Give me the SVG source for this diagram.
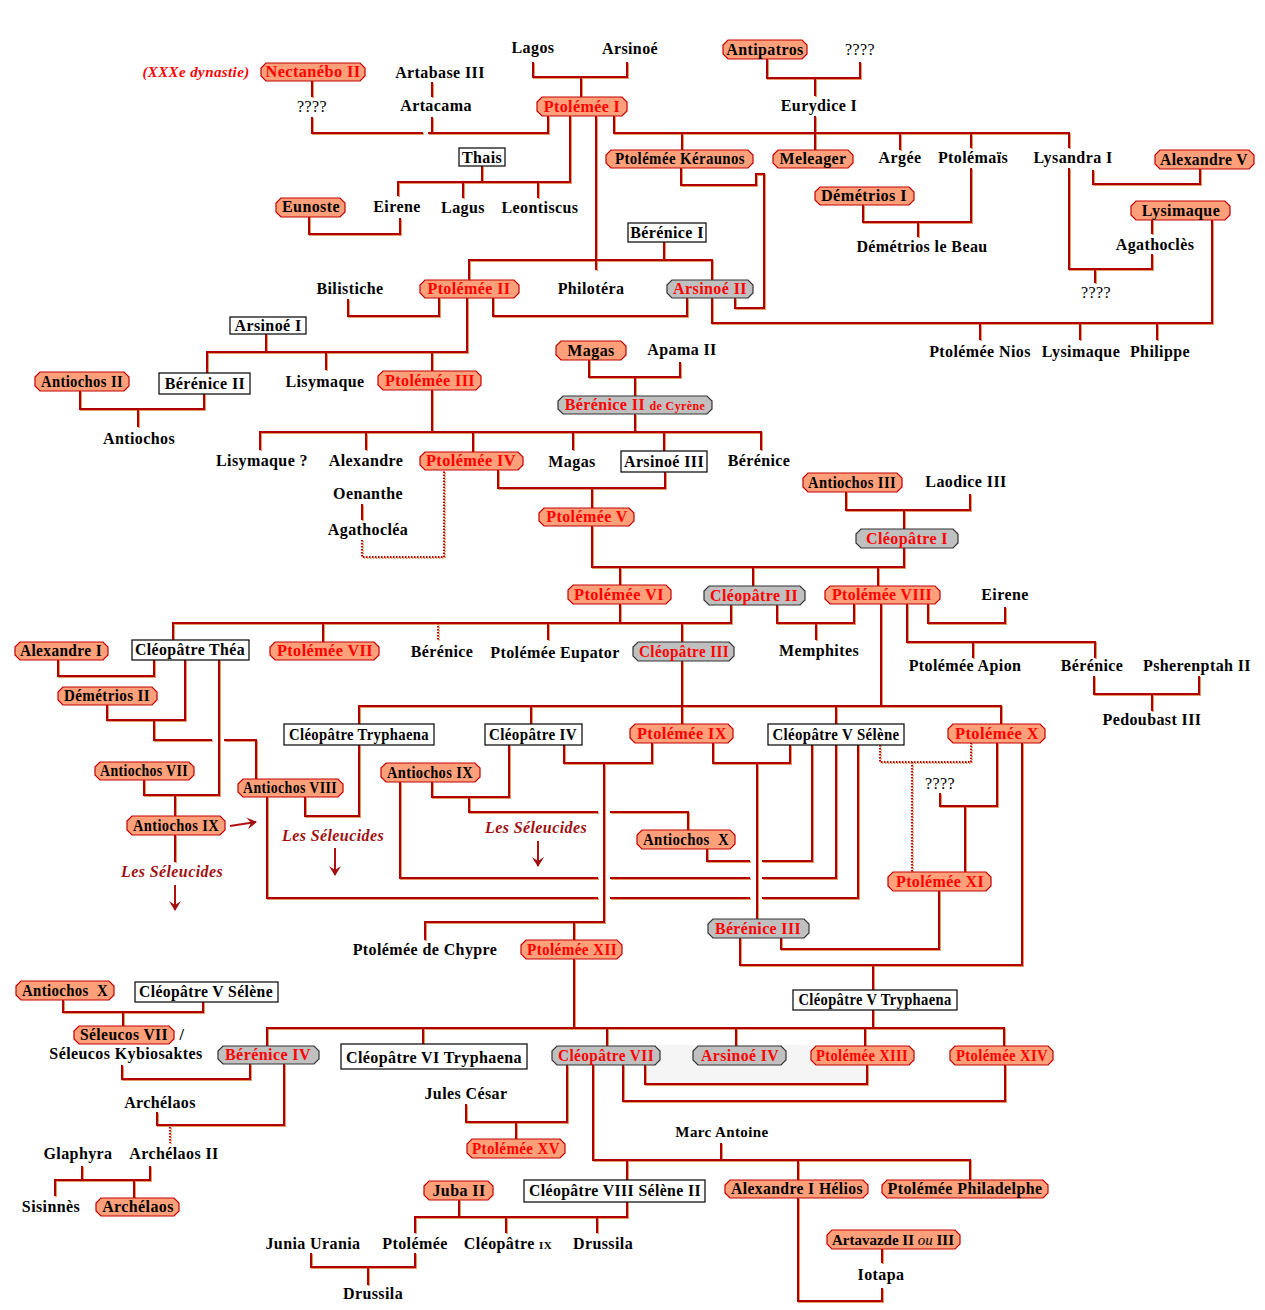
<svg xmlns="http://www.w3.org/2000/svg" width="1265" height="1310" viewBox="0 0 1265 1310">
<style>
.t{font-family:"Liberation Serif",serif;font-weight:bold;font-size:16px;letter-spacing:0.4px;text-anchor:middle;fill:#000}
.r{fill:#f00}
.q{font-weight:normal}
.it{font-style:italic}
.sel{font-style:italic;fill:#a01010}
.oct polygon{fill:#ffa07a;stroke:#c00000;stroke-width:1.2}
.gray polygon{fill:#c0c0c0;stroke:#333;stroke-width:1.2}
.box rect{fill:#fff;stroke:#000;stroke-width:1.2}
#connectors path{fill:none;stroke:#b00000;stroke-width:2}
#connectors path.dot{stroke:#c00000;stroke-width:2;stroke-dasharray:1.5 1.5}
.arr{fill:none;stroke:#b01010;stroke-width:2}
</style>
<defs>
<filter id="edge" x="-5%" y="-5%" width="110%" height="110%"><feDropShadow dx="1" dy="1" stdDeviation="0" flood-color="#e39a66"/></filter>
<marker id="ah" markerWidth="12" markerHeight="12" refX="9" refY="6" orient="auto" markerUnits="userSpaceOnUse"><path d="M0,0 L10,6 L0,12 L4,6 Z" fill="#a01010"/></marker>
</defs>
<rect width="1265" height="1310" fill="#fff"/>
<rect x="647" y="1045" width="220" height="38" fill="#f5f5f5"/>

<g id="connectors" filter="url(#edge)">
<path d="M533,62 V77 H627 V62"/>
<path d="M581,77 V97"/>
<path d="M767,59 V78 H860 V62"/>
<path d="M815,78 V96"/>
<path d="M312,81 V97"/>
<path d="M312,117 V133 H423"/>
<path d="M428,133 H548 V116"/>
<path d="M432,82 V97"/>
<path d="M432,117 V133"/>
<path d="M570,116 V182 H398 V196"/>
<path d="M482,166 V182"/>
<path d="M463,182 V198"/>
<path d="M538,182 V198"/>
<path d="M309,217 V234 H400 V218"/>
<path d="M596,116 V270"/>
<path d="M664,242 V260"/>
<path d="M469,280 V260 H712 V280"/>
<path d="M614,116 V133 H1069 V148"/>
<path d="M682,133 V150"/>
<path d="M815,116 V150"/>
<path d="M900,133 V150"/>
<path d="M971,133 V148"/>
<path d="M1093,170 V184 H1200 V169"/>
<path d="M863,205 V222 H971 V168"/>
<path d="M918,222 V237"/>
<path d="M1069,168 V269 H1152 V254"/>
<path d="M1095,269 V283"/>
<path d="M1152,220 V234"/>
<path d="M1212,220 V323 H712 V298"/>
<path d="M980,323 V340 M1080,323 V340 M1157,323 V340"/>
<path d="M681,168 V185 H756 V174 H764 V308 H735 V298"/>
<path d="M348,299 V316 H439 V298"/>
<path d="M493,298 V316 H687 V298"/>
<path d="M467,298 V352 H207 V373"/>
<path d="M266,334 V352"/>
<path d="M326,352 V370"/>
<path d="M432,352 V371"/>
<path d="M80,391 V409 H204 V394"/>
<path d="M138,409 V427"/>
<path d="M589,360 V377 H680 V362"/>
<path d="M635,377 V396"/>
<path d="M432,390 V432"/>
<path d="M260,450 V432 H761 V450"/>
<path d="M635,414 V432"/>
<path d="M366,432 V450 M473,432 V452 M573,432 V450 M664,432 V451"/>
<path d="M362,504 V520"/>
<path class="dot" d="M362,540 V557 H444 V470"/>
<path d="M498,470 V488 H665 V472"/>
<path d="M592,488 V508"/>
<path d="M846,492 V510 H970 V494"/>
<path d="M904,510 V529"/>
<path d="M592,526 V567 H904 V548"/>
<path d="M620,567 V585 M753,567 V586 M878,567 V586"/>
<path d="M928,604 V623 H1005 V607"/>
<path d="M620,604 V623"/>
<path d="M173,641 V623 H731 V605"/>
<path d="M323,623 V642 M548,623 V640 M682,623 V642"/>
<path class="dot" d="M438,623 V640"/>
<path d="M777,605 V623 H854 V604"/>
<path d="M816,623 V640"/>
<path d="M881,604 V706"/>
<path d="M907,604 V642 H1095 V658"/>
<path d="M973,642 V658"/>
<path d="M1094,676 V694 H1199 V676"/>
<path d="M1152,694 V711"/>
<path d="M682,661 V724"/>
<path d="M359,724 V706 H1001 V724"/>
<path d="M531,706 V724 M836,706 V724"/>
<path d="M58,660 V676 H154 V660"/>
<path d="M185,660 V720 H107 V705"/>
<path d="M219,660 V795 H144 V780"/>
<path d="M154,720 V740 H212 M224,740 H256 V779"/>
<path d="M175,795 V816"/>
<path d="M175,835 V862"/>
<path d="M267,797 V898 H598 M610,898 H750 M762,898 H858 V745"/>
<path d="M305,797 V816 H359 V745"/>
<path d="M400,782 V878 H598 M610,878 H750 M762,878 H836 V745"/>
<path d="M432,782 V797 H509 V745"/>
<path d="M469,797 V812 H598 M610,812 H688 V830"/>
<path d="M707,849 V861 H750 M762,861 H812 V745"/>
<path d="M564,745 V763 H652 V743"/>
<path d="M604,764 V922 H425 V940"/>
<path d="M574,922 V940"/>
<path d="M713,743 V763 H790 V745"/>
<path d="M757,763 V919"/>
<path d="M997,743 V806 H940 V793"/>
<path d="M965,806 V872"/>
<path d="M1022,743 V965 H740 V938"/>
<path d="M939,891 V949 H781 V938"/>
<path d="M873,965 V990"/>
<path class="dot" d="M880,745 V762 H971 V743 M912,762 V872"/>
<path d="M574,959 V1028"/>
<path d="M267,1046 V1028 H1004 V1046"/>
<path d="M423,1028 V1044 M607,1028 V1046 M736,1028 V1046 M865,1028 V1046 M873,1010 V1028"/>
<path d="M63,1000 V1012 H203 V1002"/>
<path d="M123,1012 V1026"/>
<path d="M122,1065 V1079 H250 V1064"/>
<path d="M284,1064 V1125 H157 V1112"/>
<path class="dot" d="M170,1127 V1143"/>
<path d="M82,1166 V1180 H150 V1166"/>
<path d="M55,1196 V1180 H82 M134,1180 V1198"/>
<path d="M645,1065 V1084 H867 V1065"/>
<path d="M623,1065 V1101 H1005 V1065"/>
<path d="M567,1065 V1122 H466 V1104"/>
<path d="M516,1122 V1139"/>
<path d="M593,1065 V1160 H970 V1180"/>
<path d="M721,1143 V1160"/>
<path d="M627,1160 V1180 M798,1160 V1180"/>
<path d="M798,1198 V1301 H882 V1288"/>
<path d="M882,1249 V1263"/>
<path d="M459,1200 V1217"/>
<path d="M415,1233 V1217 H627 V1202"/>
<path d="M506,1217 V1233 M597,1217 V1233"/>
<path d="M311,1253 V1267 H415 V1253"/>
<path d="M368,1267 V1285"/>
</g>

<g id="arrows">
<path class="arr" d="M175,885 V910" marker-end="url(#ah)"/>
<path class="arr" d="M335,848 V875" marker-end="url(#ah)"/>
<path class="arr" d="M538,841 V866" marker-end="url(#ah)"/>
<path class="arr" d="M230,826 L256,822" marker-end="url(#ah)"/>
</g>

<g id="n-dynastie"><text class="t r it" x="196" y="77" style="font-size:15px">(XXXe dynastie)</text></g>
<g id="n-nectanebo" class="oct"><polygon points="266,63 360,63 365,68 365,76 360,81 266,81 261,76 261,68"/><text class="t r" x="313" y="77" textLength="95" lengthAdjust="spacingAndGlyphs">Nectanébo II</text></g>
<g id="n-antipatros" class="oct"><polygon points="728,40 802,40 807,45 807,54 802,59 728,59 723,54 723,45"/><text class="t" x="765" y="55">Antipatros</text></g>
<g id="n-ptolemee1" class="oct"><polygon points="542,97 622,97 627,102 627,111 622,116 542,116 537,111 537,102"/><text class="t r" x="582" y="112">Ptolémée I</text></g>
<g id="n-keraunos" class="oct"><polygon points="611,150 748,150 753,155 753,163 748,168 611,168 606,163 606,155"/><text class="t" x="680" y="164" textLength="130" lengthAdjust="spacingAndGlyphs">Ptolémée Kéraunos</text></g>
<g id="n-meleager" class="oct"><polygon points="778,150 848,150 853,155 853,163 848,168 778,168 773,163 773,155"/><text class="t" x="813" y="164">Meleager</text></g>
<g id="n-alexandre5" class="oct"><polygon points="1160,150 1249,150 1254,155 1254,164 1249,169 1160,169 1155,164 1155,155"/><text class="t" x="1204" y="165" textLength="88" lengthAdjust="spacingAndGlyphs">Alexandre V</text></g>
<g id="n-demetrios1" class="oct"><polygon points="820,187 909,187 914,192 914,200 909,205 820,205 815,200 815,192"/><text class="t" x="864" y="201" textLength="86" lengthAdjust="spacingAndGlyphs">Démétrios I</text></g>
<g id="n-eunoste" class="oct"><polygon points="281,198 340,198 345,203 345,212 340,217 281,217 276,212 276,203"/><text class="t" x="311" y="212">Eunoste</text></g>
<g id="n-lysimaque" class="oct"><polygon points="1136,201 1225,201 1230,206 1230,215 1225,220 1136,220 1131,215 1131,206"/><text class="t" x="1181" y="216">Lysimaque</text></g>
<g id="n-ptolemee2" class="oct"><polygon points="425,280 514,280 519,285 519,293 514,298 425,298 420,293 420,285"/><text class="t r" x="469" y="294">Ptolémée II</text></g>
<g id="n-antiochos2" class="oct"><polygon points="40,372 124,372 129,377 129,386 124,391 40,391 35,386 35,377"/><text class="t" x="82" y="387" textLength="82" lengthAdjust="spacingAndGlyphs">Antiochos II</text></g>
<g id="n-ptolemee3" class="oct"><polygon points="383,371 476,371 481,376 481,385 476,390 383,390 378,385 378,376"/><text class="t r" x="430" y="386" textLength="90" lengthAdjust="spacingAndGlyphs">Ptolémée III</text></g>
<g id="n-magas" class="oct"><polygon points="561,341 621,341 626,346 626,355 621,360 561,360 556,355 556,346"/><text class="t" x="591" y="356">Magas</text></g>
<g id="n-ptolemee4" class="oct"><polygon points="425,452 518,452 523,457 523,465 518,470 425,470 420,465 420,457"/><text class="t r" x="471" y="466" textLength="90" lengthAdjust="spacingAndGlyphs">Ptolémée IV</text></g>
<g id="n-ptolemee5" class="oct"><polygon points="544,508 629,508 634,513 634,521 629,526 544,526 539,521 539,513"/><text class="t r" x="587" y="522">Ptolémée V</text></g>
<g id="n-antiochos3" class="oct"><polygon points="808,473 897,473 902,478 902,487 897,492 808,492 803,487 803,478"/><text class="t" x="852" y="488" textLength="88" lengthAdjust="spacingAndGlyphs">Antiochos III</text></g>
<g id="n-ptolemee6" class="oct"><polygon points="573,585 666,585 671,590 671,599 666,604 573,604 568,599 568,590"/><text class="t r" x="619" y="600" textLength="90" lengthAdjust="spacingAndGlyphs">Ptolémée VI</text></g>
<g id="n-ptolemee8" class="oct"><polygon points="830,586 935,586 940,591 940,599 935,604 830,604 825,599 825,591"/><text class="t r" x="882" y="600" textLength="100" lengthAdjust="spacingAndGlyphs">Ptolémée VIII</text></g>
<g id="n-alexandre1" class="oct"><polygon points="20,642 103,642 108,647 108,655 103,660 20,660 15,655 15,647"/><text class="t" x="61" y="656" textLength="82" lengthAdjust="spacingAndGlyphs">Alexandre I</text></g>
<g id="n-ptolemee7" class="oct"><polygon points="275,642 374,642 379,647 379,655 374,660 275,660 270,655 270,647"/><text class="t r" x="325" y="656" textLength="96" lengthAdjust="spacingAndGlyphs">Ptolémée VII</text></g>
<g id="n-demetrios2" class="oct"><polygon points="63,687 152,687 157,692 157,700 152,705 63,705 58,700 58,692"/><text class="t" x="107" y="701" textLength="86" lengthAdjust="spacingAndGlyphs">Démétrios II</text></g>
<g id="n-antiochos7" class="oct"><polygon points="100,762 189,762 194,767 194,775 189,780 100,780 95,775 95,767"/><text class="t" x="144" y="776" textLength="88" lengthAdjust="spacingAndGlyphs">Antiochos VII</text></g>
<g id="n-antiochos8" class="oct"><polygon points="243,779 338,779 343,784 343,792 338,797 243,797 238,792 238,784"/><text class="t" x="290" y="793" textLength="94" lengthAdjust="spacingAndGlyphs">Antiochos VIII</text></g>
<g id="n-antiochos9a" class="oct"><polygon points="132,816 220,816 225,821 225,830 220,835 132,835 127,830 127,821"/><text class="t" x="176" y="831" textLength="86" lengthAdjust="spacingAndGlyphs">Antiochos IX</text></g>
<g id="n-antiochos9b" class="oct"><polygon points="386,763 475,763 480,768 480,777 475,782 386,782 381,777 381,768"/><text class="t" x="430" y="778" textLength="86" lengthAdjust="spacingAndGlyphs">Antiochos IX</text></g>
<g id="n-ptolemee9" class="oct"><polygon points="635,724 728,724 733,729 733,738 728,743 635,743 630,738 630,729"/><text class="t r" x="682" y="739" textLength="90" lengthAdjust="spacingAndGlyphs">Ptolémée IX</text></g>
<g id="n-ptolemee10" class="oct"><polygon points="953,724 1040,724 1045,729 1045,738 1040,743 953,743 948,738 948,729"/><text class="t r" x="997" y="739" textLength="84" lengthAdjust="spacingAndGlyphs">Ptolémée X</text></g>
<g id="n-antiochos10a" class="oct"><polygon points="642,830 730,830 735,835 735,844 730,849 642,849 637,844 637,835"/><text class="t" x="686" y="845" textLength="86" lengthAdjust="spacingAndGlyphs">Antiochos&#160;&#160;X</text></g>
<g id="n-ptolemee11" class="oct"><polygon points="893,872 986,872 991,877 991,886 986,891 893,891 888,886 888,877"/><text class="t r" x="940" y="887" textLength="88" lengthAdjust="spacingAndGlyphs">Ptolémée XI</text></g>
<g id="n-ptolemee12" class="oct"><polygon points="526,940 617,940 622,945 622,954 617,959 526,959 521,954 521,945"/><text class="t r" x="572" y="955" textLength="90" lengthAdjust="spacingAndGlyphs">Ptolémée XII</text></g>
<g id="n-antiochos10b" class="oct"><polygon points="21,981 109,981 114,986 114,995 109,1000 21,1000 16,995 16,986"/><text class="t" x="65" y="996" textLength="86" lengthAdjust="spacingAndGlyphs">Antiochos&#160;&#160;X</text></g>
<g id="n-seleucos7" class="oct"><polygon points="79,1026 169,1026 174,1031 174,1039 169,1044 79,1044 74,1039 74,1031"/><text class="t" x="124" y="1040" textLength="88" lengthAdjust="spacingAndGlyphs">Séleucos VII</text></g>
<g id="n-ptolemee13" class="oct"><polygon points="816,1046 909,1046 914,1051 914,1060 909,1065 816,1065 811,1060 811,1051"/><text class="t r" x="862" y="1061" textLength="92" lengthAdjust="spacingAndGlyphs">Ptolémée XIII</text></g>
<g id="n-ptolemee14" class="oct"><polygon points="955,1046 1048,1046 1053,1051 1053,1060 1048,1065 955,1065 950,1060 950,1051"/><text class="t r" x="1002" y="1061" textLength="92" lengthAdjust="spacingAndGlyphs">Ptolémée XIV</text></g>
<g id="n-ptolemee15" class="oct"><polygon points="472,1139 560,1139 565,1144 565,1153 560,1158 472,1158 467,1153 467,1144"/><text class="t r" x="516" y="1154" textLength="88" lengthAdjust="spacingAndGlyphs">Ptolémée XV</text></g>
<g id="n-juba2" class="oct"><polygon points="429,1181 488,1181 493,1186 493,1195 488,1200 429,1200 424,1195 424,1186"/><text class="t" x="459" y="1196">Juba II</text></g>
<g id="n-helios" class="oct"><polygon points="730,1180 863,1180 868,1185 868,1193 863,1198 730,1198 725,1193 725,1185"/><text class="t" x="797" y="1194" textLength="132" lengthAdjust="spacingAndGlyphs">Alexandre I Hélios</text></g>
<g id="n-philadelphe" class="oct"><polygon points="887,1180 1043,1180 1048,1185 1048,1193 1043,1198 887,1198 882,1193 882,1185"/><text class="t" x="965" y="1194" textLength="155" lengthAdjust="spacingAndGlyphs">Ptolémée Philadelphe</text></g>
<g id="n-artavazde" class="oct"><polygon points="832,1230 955,1230 960,1235 960,1244 955,1249 832,1249 827,1244 827,1235"/><text class="t" x="893" y="1245" style="font-size:15px;letter-spacing:0">Artavazde II <tspan class="it q">ou</tspan> III</text></g>
<g id="n-archelaos-b" class="oct"><polygon points="101,1198 174,1198 179,1203 179,1211 174,1216 101,1216 96,1211 96,1203"/><text class="t" x="138" y="1212">Archélaos</text></g>

<g id="n-arsinoe2" class="gray"><polygon points="672,280 748,280 753,285 753,293 748,298 672,298 667,293 667,285"/><text class="t r" x="710" y="294">Arsinoé II</text></g>
<g id="n-berenice2-cyrene" class="gray"><polygon points="563,396 707,396 712,401 712,409 707,414 563,414 558,409 558,401"/><text class="t r" x="635" y="410">Bérénice II <tspan style="font-size:12px">de Cyrène</tspan></text></g>
<g id="n-cleopatre1" class="gray"><polygon points="861,529 953,529 958,534 958,543 953,548 861,548 856,543 856,534"/><text class="t r" x="907" y="544" textLength="82" lengthAdjust="spacingAndGlyphs">Cléopâtre I</text></g>
<g id="n-cleopatre2" class="gray"><polygon points="709,586 800,586 805,591 805,600 800,605 709,605 704,600 704,591"/><text class="t r" x="754" y="601" textLength="88" lengthAdjust="spacingAndGlyphs">Cléopâtre II</text></g>
<g id="n-cleopatre3" class="gray"><polygon points="638,642 729,642 734,647 734,656 729,661 638,661 633,656 633,647"/><text class="t r" x="684" y="657" textLength="90" lengthAdjust="spacingAndGlyphs">Cléopâtre III</text></g>
<g id="n-berenice3" class="gray"><polygon points="713,919 804,919 809,924 809,933 804,938 713,938 708,933 708,924"/><text class="t r" x="758" y="934" textLength="86" lengthAdjust="spacingAndGlyphs">Bérénice III</text></g>
<g id="n-berenice4" class="gray"><polygon points="223,1046 314,1046 319,1051 319,1059 314,1064 223,1064 218,1059 218,1051"/><text class="t r" x="268" y="1060" textLength="86" lengthAdjust="spacingAndGlyphs">Bérénice IV</text></g>
<g id="n-cleopatre7" class="gray"><polygon points="557,1046 655,1046 660,1051 660,1060 655,1065 557,1065 552,1060 552,1051"/><text class="t r" x="606" y="1061" textLength="96" lengthAdjust="spacingAndGlyphs">Cléopâtre VII</text></g>
<g id="n-arsinoe4" class="gray"><polygon points="698,1046 781,1046 786,1051 786,1060 781,1065 698,1065 693,1060 693,1051"/><text class="t r" x="740" y="1061" textLength="78" lengthAdjust="spacingAndGlyphs">Arsinoé IV</text></g>

<g id="n-thais" class="box"><rect x="459" y="148" width="46" height="18"/><text class="t" x="482" y="163">Thais</text></g>
<g id="n-berenice1" class="box"><rect x="628" y="223" width="78" height="19"/><text class="t" x="667" y="238">Bérénice I</text></g>
<g id="n-arsinoe1" class="box"><rect x="230" y="317" width="76" height="17"/><text class="t" x="268" y="331">Arsinoé I</text></g>
<g id="n-berenice2" class="box"><rect x="159" y="373" width="91" height="21"/><text class="t" x="205" y="389">Bérénice II</text></g>
<g id="n-arsinoe3" class="box"><rect x="621" y="451" width="86" height="21"/><text class="t" x="664" y="467" textLength="80" lengthAdjust="spacingAndGlyphs">Arsinoé III</text></g>
<g id="n-cleopatre-thea" class="box"><rect x="132" y="640" width="117" height="20"/><text class="t" x="190" y="655" textLength="110" lengthAdjust="spacingAndGlyphs">Cléopâtre Théa</text></g>
<g id="n-cleopatre-tryphaena" class="box"><rect x="284" y="724" width="150" height="21"/><text class="t" x="359" y="740" textLength="140" lengthAdjust="spacingAndGlyphs">Cléopâtre Tryphaena</text></g>
<g id="n-cleopatre4" class="box"><rect x="485" y="724" width="97" height="21"/><text class="t" x="533" y="740" textLength="88" lengthAdjust="spacingAndGlyphs">Cléopâtre IV</text></g>
<g id="n-cleopatre5-selene-a" class="box"><rect x="768" y="724" width="136" height="21"/><text class="t" x="836" y="740" textLength="127" lengthAdjust="spacingAndGlyphs">Cléopâtre V Sélène</text></g>
<g id="n-cleopatre5-selene-b" class="box"><rect x="135" y="982" width="143" height="20"/><text class="t" x="206" y="997" textLength="134" lengthAdjust="spacingAndGlyphs">Cléopâtre V Sélène</text></g>
<g id="n-cleopatre5-tryphaena" class="box"><rect x="793" y="990" width="164" height="20"/><text class="t" x="875" y="1005" textLength="153" lengthAdjust="spacingAndGlyphs">Cléopâtre V Tryphaena</text></g>
<g id="n-cleopatre6" class="box"><rect x="341" y="1044" width="186" height="25"/><text class="t" x="434" y="1063" textLength="176" lengthAdjust="spacingAndGlyphs">Cléopâtre VI Tryphaena</text></g>
<g id="n-cleopatre8" class="box"><rect x="524" y="1180" width="181" height="22"/><text class="t" x="615" y="1196" textLength="172" lengthAdjust="spacingAndGlyphs">Cléopâtre VIII Sélène II</text></g>

<g id="n-artabase"><text class="t" x="440" y="78">Artabase III</text></g>
<g id="n-q1"><text class="t q" x="312" y="112">????</text></g>
<g id="n-artacama"><text class="t" x="436" y="111">Artacama</text></g>
<g id="n-lagos"><text class="t" x="533" y="53">Lagos</text></g>
<g id="n-arsinoe"><text class="t" x="630" y="54">Arsinoé</text></g>
<g id="n-q2"><text class="t q" x="860" y="55">????</text></g>
<g id="n-eurydice"><text class="t" x="819" y="111">Eurydice I</text></g>
<g id="n-argee"><text class="t" x="900" y="163">Argée</text></g>
<g id="n-ptolemais"><text class="t" x="973" y="163">Ptolémaïs</text></g>
<g id="n-lysandra"><text class="t" x="1073" y="163">Lysandra I</text></g>
<g id="n-demetrios-beau"><text class="t" x="922" y="252">Démétrios le Beau</text></g>
<g id="n-agathocles"><text class="t" x="1155" y="250">Agathoclès</text></g>
<g id="n-q3"><text class="t q" x="1096" y="298">????</text></g>
<g id="n-eirene1"><text class="t" x="397" y="212">Eirene</text></g>
<g id="n-lagus"><text class="t" x="463" y="213">Lagus</text></g>
<g id="n-leontiscus"><text class="t" x="540" y="213">Leontiscus</text></g>
<g id="n-philotera"><text class="t" x="591" y="294">Philotéra</text></g>
<g id="n-bilistiche"><text class="t" x="350" y="294">Bilistiche</text></g>
<g id="n-nios"><text class="t" x="980" y="357">Ptolémée Nios</text></g>
<g id="n-lysimaque2"><text class="t" x="1081" y="357">Lysimaque</text></g>
<g id="n-philippe"><text class="t" x="1160" y="357">Philippe</text></g>
<g id="n-apama"><text class="t" x="682" y="355">Apama II</text></g>
<g id="n-lisymaque"><text class="t" x="325" y="387">Lisymaque</text></g>
<g id="n-antiochos"><text class="t" x="139" y="444">Antiochos</text></g>
<g id="n-lisymaque-q"><text class="t" x="262" y="466">Lisymaque ?</text></g>
<g id="n-alexandre"><text class="t" x="366" y="466">Alexandre</text></g>
<g id="n-magas2"><text class="t" x="572" y="467">Magas</text></g>
<g id="n-berenice-a"><text class="t" x="759" y="466">Bérénice</text></g>
<g id="n-oenanthe"><text class="t" x="368" y="499">Oenanthe</text></g>
<g id="n-agathoclea"><text class="t" x="368" y="535">Agathocléa</text></g>
<g id="n-laodice"><text class="t" x="966" y="487">Laodice III</text></g>
<g id="n-eirene2"><text class="t" x="1005" y="600">Eirene</text></g>
<g id="n-berenice-b"><text class="t" x="442" y="657">Bérénice</text></g>
<g id="n-eupator"><text class="t" x="555" y="658">Ptolémée Eupator</text></g>
<g id="n-memphites"><text class="t" x="819" y="656">Memphites</text></g>
<g id="n-apion"><text class="t" x="965" y="671">Ptolémée Apion</text></g>
<g id="n-berenice-c"><text class="t" x="1092" y="671">Bérénice</text></g>
<g id="n-psherenptah"><text class="t" x="1197" y="671">Psherenptah II</text></g>
<g id="n-pedoubast"><text class="t" x="1152" y="725">Pedoubast III</text></g>
<g id="n-q4"><text class="t q" x="940" y="789">????</text></g>
<g id="n-seleucides1"><text class="t sel" x="172" y="877">Les Séleucides</text></g>
<g id="n-seleucides2"><text class="t sel" x="333" y="841">Les Séleucides</text></g>
<g id="n-seleucides3"><text class="t sel" x="536" y="833">Les Séleucides</text></g>
<g id="n-chypre"><text class="t" x="425" y="955">Ptolémée de Chypre</text></g>
<g id="n-kybiosaktes"><text class="t" x="126" y="1059">Séleucos Kybiosaktes</text></g>
<g id="n-slash"><text class="t" x="182" y="1040">/</text></g>
<g id="n-archelaos-a"><text class="t" x="160" y="1108">Archélaos</text></g>
<g id="n-glaphyra"><text class="t" x="78" y="1159">Glaphyra</text></g>
<g id="n-archelaos2"><text class="t" x="174" y="1159">Archélaos II</text></g>
<g id="n-sisinnes"><text class="t" x="51" y="1212">Sisinnès</text></g>
<g id="n-cesar"><text class="t" x="466" y="1099">Jules César</text></g>
<g id="n-antoine"><text class="t" x="722" y="1137" style="font-size:15px">Marc Antoine</text></g>
<g id="n-junia"><text class="t" x="313" y="1249">Junia Urania</text></g>
<g id="n-ptolemee-m"><text class="t" x="415" y="1249">Ptolémée</text></g>
<g id="n-cleopatre9"><text class="t" x="508" y="1249">Cléopâtre <tspan style="font-size:11px">IX</tspan></text></g>
<g id="n-drussila1"><text class="t" x="603" y="1249">Drussila</text></g>
<g id="n-drussila2"><text class="t" x="373" y="1299">Drussila</text></g>
<g id="n-iotapa"><text class="t" x="881" y="1280">Iotapa</text></g>
</svg>
